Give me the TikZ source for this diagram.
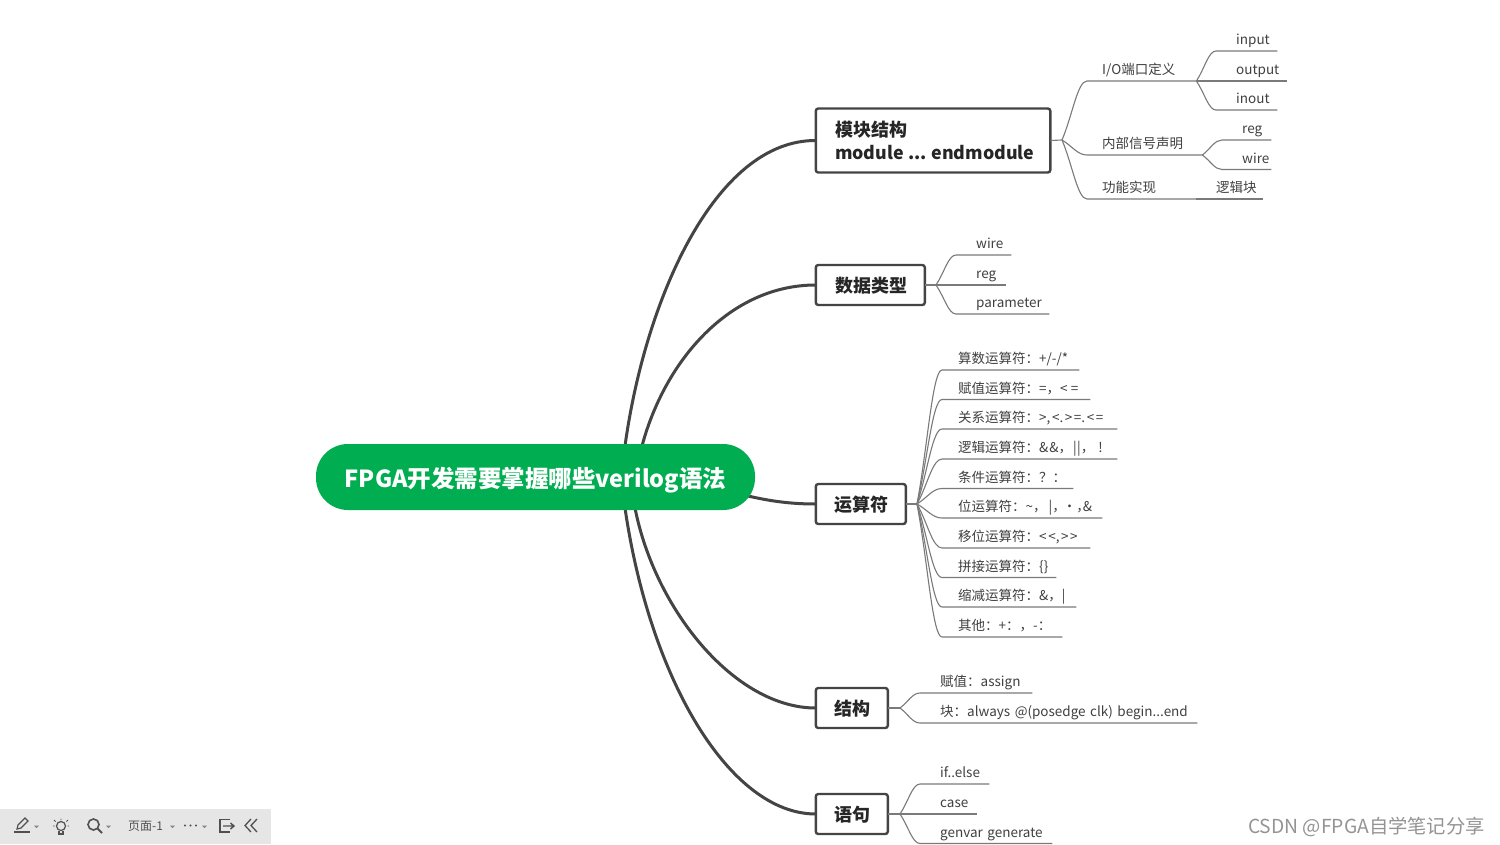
\documentclass[tikz,border=0pt]{standalone}
\usepackage{fontspec}
\setmainfont{Noto Sans CJK SC}
\usetikzlibrary{calc}
\definecolor{rootgreen}{HTML}{00AD50}
\definecolor{maindark}{HTML}{444444}
\definecolor{subgrey}{HTML}{7A7A7A}
\definecolor{leaftext}{HTML}{404040}
\definecolor{barbg}{HTML}{E6E6E6}
\definecolor{baricon}{HTML}{505050}
\tikzset{
  rootbox/.style={draw=none,fill=rootgreen,rounded corners=32pt,minimum width=439pt,minimum height=66pt,inner sep=0pt,text=white,font=\fontsize{23.5}{28}\selectfont\bfseries},
  topicbox/.style={draw=maindark,fill=white,line width=2.4pt,rounded corners=2.5pt,anchor=west,inner sep=0pt,outer sep=0pt,text=black!85,font=\fontsize{18}{24}\selectfont\bfseries,align=left},
  mainline/.style={draw=maindark,line width=3pt},
  branch/.style={draw=subgrey,line width=1.1pt},
  leaf/.style={anchor=south west,inner xsep=0pt,inner ysep=0pt,text height=12pt,text depth=6.2pt,align=left,text=leaftext,font=\fontsize{13.5}{16}\selectfont},
  baric/.style={draw=baricon,line width=1.2pt},
}
\newcommand{\leafnode}[6]{% name, x0, liney, xend, dx, text
  \node[leaf,text width=\dimexpr#4pt-#2pt\relax] (#1) at (#2,#3) {\hspace*{#5pt}\mbox{#6}};}
\newcommand{\fork}[2]{%
  \coordinate (ca) at ($(#1)!.42!(#2.south west)$);
  \coordinate (cb) at ($(#1)!.62!(#2.south west)$);
  \draw[branch] (#1) .. controls (ca) and (cb |- #2.south west) .. (#2.south west) -- (#2.south east);}
\newcommand{\opsp}{\kern1.6pt}
\newcommand{\boxtext}[1]{\kern1.5pt\raisebox{0pt}[15.6pt][0pt]{#1}}
\begin{document}
\begin{tikzpicture}[x=1pt,y=-1pt]
\useasboundingbox (0,0) rectangle (1500,844);
\fill[white] (0,0) rectangle (1500,844);
% main branches
\coordinate (r1) at (625,446);
\coordinate (r2) at (642,446);
\coordinate (r3) at (748,496);
\coordinate (r4) at (635,508);
\coordinate (r5) at (625,508);
\node[topicbox,minimum width=234.5pt,minimum height=64pt,text width=196pt,inner xsep=19pt] (t1) at (815.8,140.5) {\raisebox{-1.5pt}{模块结构}\\[-.5pt]\raisebox{-1.5pt}{\mbox{\fontsize{17.8}{24}\selectfont module\kern4.5pt...\kern4.5pt endmodule}}};
\node[topicbox,minimum width=109pt,minimum height=40pt] (t2) at (815.8,285) {\boxtext{数据类型}};
\node[topicbox,minimum width=90pt,minimum height=40pt] (t3) at (815.8,504) {\boxtext{运算符}};
\node[topicbox,minimum width=72pt,minimum height=40pt] (t4) at (815.8,708) {\boxtext{结构}};
\node[topicbox,minimum width=72pt,minimum height=40pt] (t5) at (815.8,814) {\boxtext{语句}};
\draw[mainline] (r1) .. controls (645,300) and (715,140) .. (t1.west);
\draw[mainline] (r2) .. controls (665,360) and (730,285) .. (t2.west);
\draw[mainline] (r3) .. controls (770,501) and (790,504) .. (t3.west);
\draw[mainline] (r4) .. controls (655,610) and (735,708) .. (t4.west);
\draw[mainline] (r5) .. controls (650,680) and (730,814) .. (t5.west);
\node[rootbox] (root) at (535.5,477) {\raisebox{0pt}[20pt][0pt]{FPGA开发需要掌握哪些verilog语法}};
% group 1
\coordinate (h1) at (1062,140);
\draw[branch] (t1.east) -- (h1);
\leafnode{io}{1087}{81}{1196}{15}{I/O端口定义}
\leafnode{sig}{1087}{155}{1202}{15}{内部信号声明}
\leafnode{func}{1087}{199}{1196}{15}{功能实现}
\fork{h1}{io}\fork{h1}{sig}\fork{h1}{func}
\coordinate (hio) at (io.south east);
\coordinate (hsig) at (sig.south east);
\leafnode{inp}{1216}{51}{1277}{20}{input}
\leafnode{outp}{1216}{81}{1287}{20}{output}
\leafnode{ino}{1216}{110}{1277}{20}{inout}
\leafnode{rg}{1222}{140}{1271}{20}{reg}
\leafnode{wr}{1222}{169.5}{1271}{20}{wire}
\fork{hio}{inp}\fork{hio}{outp}\fork{hio}{ino}\fork{hsig}{rg}\fork{hsig}{wr}
\leafnode{logic}{1196}{199}{1263}{20}{逻辑块}
\draw[branch] (func.south east) -- (logic.south west) -- (logic.south east);
% group 2
\coordinate (h2) at (936,285);
\draw[branch] (t2.east) -- (h2);
\leafnode{dwire}{956}{255}{1011}{20}{wire}
\leafnode{dreg}{956}{285}{1006}{20}{reg}
\leafnode{dpar}{956}{314}{1049}{20}{parameter}
\fork{h2}{dwire}\fork{h2}{dreg}\fork{h2}{dpar}
% group 3
\coordinate (h3) at (917,504);
\draw[branch] (t3.east) -- (h3);
\leafnode{o1}{942}{370}{1079}{16}{算数运算符：+/-/*}
\leafnode{o2}{942}{399.5}{1090}{16}{赋值运算符：=，<\opsp\opsp=}
\leafnode{o3}{942}{429}{1117}{16}{关系运算符：>,\opsp<.\opsp>\opsp=.\opsp<\opsp=}
\leafnode{o4}{942}{459}{1117}{16}{逻辑运算符：\&\kern1pt\&，\kern1pt|\kern.5pt|，\kern4pt!}
\leafnode{o5}{942}{488.5}{1073}{16}{条件运算符：？：}
\leafnode{o6}{942}{518}{1102}{16}{位运算符：\textasciitilde，\kern2pt|，\kern-3pt·，\kern-7pt\&}
\leafnode{o7}{942}{548}{1090}{16}{移位运算符：{<}\opsp{<},\opsp{>}\opsp{>}}
\leafnode{o8}{942}{577.5}{1056}{16}{拼接运算符：\{\}}
\leafnode{o9}{942}{607}{1076}{16}{缩减运算符：\&，|}
\leafnode{o10}{942}{637}{1062}{16}{其他：+：，-：}
\fork{h3}{o1}\fork{h3}{o2}\fork{h3}{o3}\fork{h3}{o4}\fork{h3}{o5}\fork{h3}{o6}\fork{h3}{o7}\fork{h3}{o8}\fork{h3}{o9}\fork{h3}{o10}
% group 4
\coordinate (h4) at (900,708);
\draw[branch] (t4.east) -- (h4);
\leafnode{s1}{920}{693}{1032}{20}{赋值：assign}
\leafnode{s2}{920}{723}{1197}{20}{块：always @(posedge clk) begin...end}
\fork{h4}{s1}\fork{h4}{s2}
% group 5
\coordinate (h5) at (900,814);
\draw[branch] (t5.east) -- (h5);
\leafnode{y1}{920}{784}{989}{20}{if..else}
\leafnode{y2}{920}{814}{977}{20}{case}
\leafnode{y3}{920}{843.5}{1052}{20}{genvar generate}
\fork{h5}{y1}\fork{h5}{y2}\fork{h5}{y3}
% toolbar
\fill[barbg] (0,809) rectangle (271,844);
\draw[baric] (14,832) -- (30,832);
\draw[baric] (17,829) -- (18,825) -- (25,818) -- (28,821) -- (21,828) -- cycle;
\fill[baricon!70] (34,825.5) -- (39,825.5) -- (36.5,828) -- cycle;
\draw[baric] (61,826) circle (4.5);
\draw[baric] (59,831) -- (59,834) -- (63,834) -- (63,831);
\draw[baric,line width=.9pt] (61,818.5) -- (61,820) (54,820) -- (55.5,821.5) (68,820) -- (66.5,821.5) (53,826) -- (54.5,826) (69,826) -- (67.5,826);
\draw[baric,line width=1.6pt] (93.5,824.5) circle (5.5);
\draw[baric,line width=2pt] (97.5,828.5) -- (102,833);
\fill[baricon!70] (106,825.5) -- (111,825.5) -- (108.5,828) -- cycle;
\node[inner sep=0pt,anchor=west,text=baricon,font=\fontsize{12}{14}\selectfont] (pg) at (128,826.5) {页面-1};
\fill[baricon!70] (170,825.5) -- (175,825.5) -- (172.5,828) -- cycle;
\fill[baricon] (185,825.5) circle (1.1) (190.5,825.5) circle (1.1) (196,825.5) circle (1.1);
\fill[baricon!70] (202,825.5) -- (207,825.5) -- (204.5,828) -- cycle;
\draw[baric,line width=1.4pt] (230,819.5) -- (220,819.5) -- (220,832) -- (230,832);
\draw[baric,line width=1.4pt] (223,826) -- (234,826) (230.5,823) -- (234,826) -- (230.5,829);
\draw[baric,line width=1.3pt] (251,819) -- (245,825.5) -- (251,832) (257,819) -- (251,825.5) -- (257,832);
% watermark
\node[inner sep=0pt,anchor=east,text=black!42,font=\fontsize{19.3}{24}\selectfont] (wm) at (1485,826.5) {CSDN @FPGA自学笔记分享};
\end{tikzpicture}
\end{document}
